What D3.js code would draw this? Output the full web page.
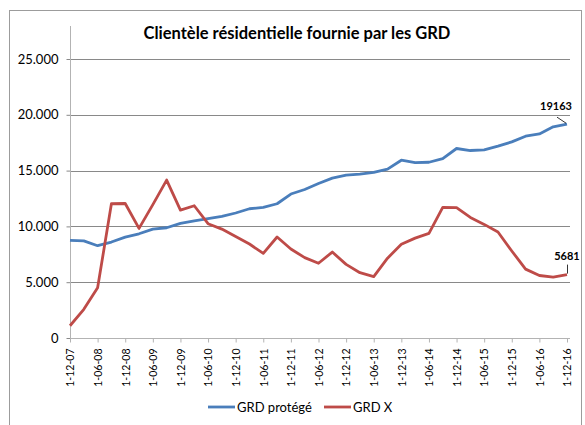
<!DOCTYPE html>
<html>
<head>
<meta charset="utf-8">
<script src="https://cdn.jsdelivr.net/npm/d3@7"></script>
<style>
  body { margin: 0; background: #fff; }
  text { font-family: Lato, "Open Sans", sans-serif; fill: #000; }
</style>
</head>
<body>
<div id="chart"></div>
<script>
const categories = [
  "1-12-07", "1-03-08", "1-06-08", "1-09-08", "1-12-08", "1-03-09", "1-06-09", "1-09-09",
  "1-12-09", "1-03-10", "1-06-10", "1-09-10", "1-12-10", "1-03-11", "1-06-11", "1-09-11",
  "1-12-11", "1-03-12", "1-06-12", "1-09-12", "1-12-12", "1-03-13", "1-06-13", "1-09-13",
  "1-12-13", "1-03-14", "1-06-14", "1-09-14", "1-12-14", "1-03-15", "1-06-15", "1-09-15",
  "1-12-15", "1-03-16", "1-06-16", "1-09-16", "1-12-16"
]
const grdProtege = [
  8750, 8700, 8270, 8600, 9040, 9340, 9760, 9880,
  10270, 10500, 10690, 10900, 11200, 11580, 11700, 12030,
  12900, 13310, 13850, 14330, 14600, 14690, 14840, 15130,
  15930, 15720, 15750, 16080, 16980, 16800, 16850, 17190,
  17570, 18080, 18290, 18920, 19163
]
const grdX = [
  1100, 2570, 4500, 12030, 12050, 9820, 11950, 14150,
  11460, 11850, 10240, 9760, 9100, 8420, 7580, 9050,
  7970, 7200, 6700, 7700, 6600, 5850, 5500, 7150,
  8400, 8950, 9370, 11700, 11680, 10800, 10180, 9500,
  7800, 6170, 5600, 5450, 5681
]
const yTicks = [0, 5000, 10000, 15000, 20000, 25000]
const xTickLabels = categories.filter((d, i) => i % 2 === 0)
const seriesNames = ["GRD protégé", "GRD X"]
const colors = ["#4a7ebb", "#be4b48"]

const width = 585, height = 425
const plot = {left: 70, right: 567, gridRight: 570, top: 26, bottom: 338, yMaxPos: 59}

const svg = d3.select("#chart")
  .append("svg")
    .attr("width", width)
    .attr("height", height)

// chart border (bottom edge is cut off in the original)
svg.append("rect")
  .attr("x", 9.5).attr("y", 10.5)
  .attr("width", 572).attr("height", 450)
  .attr("fill", "none")
  .attr("stroke", "#9c9c9c")

const x = d3.scalePoint()
  .domain(categories)
  .range([plot.left, plot.right])

const y = d3.scaleLinear()
  .domain([0, 25000])
  .range([plot.bottom, plot.yMaxPos])

const fmt = d3.formatLocale({decimal: ",", thousands: ".", grouping: [3], currency: ["", "€"]}).format(",")

// gridlines
svg.append("g")
  .selectAll("line")
  .data(yTicks.filter(d => d > 0))
  .join("line")
    .attr("x1", plot.left).attr("x2", plot.gridRight)
    .attr("y1", d => Math.round(y(d)) + 0.5).attr("y2", d => Math.round(y(d)) + 0.5)
    .attr("stroke", "#898989")

// y axis
const yAxis = svg.append("g")
  .attr("transform", "translate(" + (plot.left + 0.5) + ",0)")
  .call(d3.axisLeft(y).tickValues(yTicks).tickSize(4).tickFormat(fmt))
yAxis.select(".domain").remove()
yAxis.selectAll(".tick line").attr("stroke", "#898989")
yAxis.selectAll(".tick text")
  .attr("x", -12)
  .style("font-size", "13px")
  .style("font-family", "Lato, sans-serif")
yAxis.append("line")
  .attr("y1", plot.bottom).attr("y2", plot.top)
  .attr("stroke", "#b3b3b3")

// x axis
const xAxis = svg.append("g")
  .attr("transform", "translate(0," + (plot.bottom + 0.5) + ")")
  .call(d3.axisBottom(x).tickValues(xTickLabels).tickSize(4).tickSizeOuter(0))
xAxis.select(".domain")
  .attr("d", "M" + plot.left + ",0H" + plot.gridRight)
  .attr("stroke", "#b3b3b3")
xAxis.selectAll(".tick line").attr("stroke", "#b3b3b3")
xAxis.selectAll(".tick text")
  .attr("transform", "rotate(-90)")
  .attr("x", -10)
  .attr("y", 0)
  .attr("dy", "0.36em")
  .attr("text-anchor", "end")
  .style("font-size", "10.5px")
  .style("font-family", "Lato, sans-serif")

// lines
const line = d3.line()
  .x((d, i) => x(categories[i]))
  .y(d => y(d))

const series = [grdProtege, grdX]
svg.append("g")
  .selectAll("path")
  .data(series)
  .join("path")
    .attr("fill", "none")
    .attr("stroke", (d, i) => colors[i])
    .attr("stroke-width", 2.8)
    .attr("stroke-linejoin", "round")
    .attr("d", line)

// data labels on last points
const lastCat = categories[categories.length - 1]
const lastBlue = grdProtege[grdProtege.length - 1]
const lastRed = grdX[grdX.length - 1]

svg.append("line")
  .attr("x1", x(lastCat) - 10).attr("y1", y(lastBlue) - 7)
  .attr("x2", x(lastCat) - 1).attr("y2", y(lastBlue) - 1)
  .attr("stroke", "#000").attr("stroke-width", 0.8)
svg.append("text")
  .attr("x", x(lastCat) - 11).attr("y", y(lastBlue) - 14)
  .attr("text-anchor", "middle")
  .style("font-size", "11px").style("font-weight", "bold")
  .text(lastBlue)

svg.append("line")
  .attr("x1", x(lastCat) + 0.5).attr("y1", y(lastRed) - 10)
  .attr("x2", x(lastCat) + 0.5).attr("y2", y(lastRed) - 1)
  .attr("stroke", "#000").attr("stroke-width", 0.8)
svg.append("text")
  .attr("x", x(lastCat)).attr("y", y(lastRed) - 15)
  .attr("text-anchor", "middle")
  .style("font-size", "11px").style("font-weight", "bold")
  .text(lastRed)

// title
svg.append("text")
  .attr("x", 297).attr("y", 38.5)
  .attr("text-anchor", "middle")
  .style("font-size", "16.5px").style("font-weight", "bold")
  .text("Clientèle résidentielle fournie par les GRD")

// legend
const legendX = [208, 324]
const legend = svg.append("g")
  .selectAll("g")
  .data(seriesNames)
  .join("g")
    .attr("transform", (d, i) => "translate(" + legendX[i] + ",407)")
legend.append("line")
  .attr("x1", 0).attr("x2", 27)
  .attr("stroke", (d, i) => colors[i])
  .attr("stroke-width", 2.8)
legend.append("text")
  .attr("x", 29).attr("y", 4.5)
  .style("font-size", "13px")
  .text(d => d)
</script>
</body>
</html>
